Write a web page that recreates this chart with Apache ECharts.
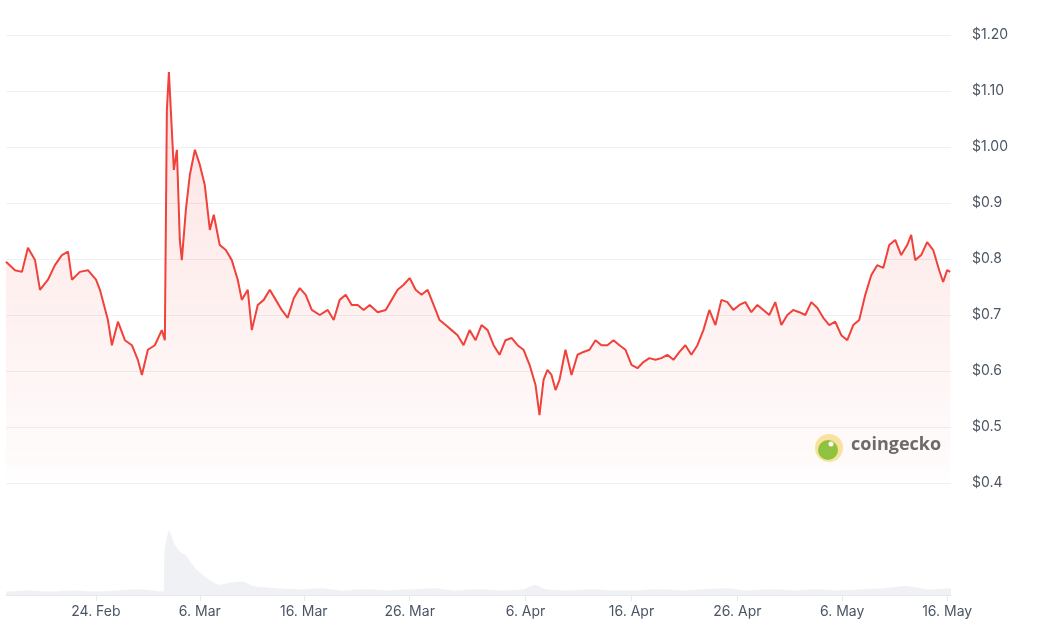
<!DOCTYPE html>
<html><head><meta charset="utf-8">
<script src="https://cdn.jsdelivr.net/npm/echarts@6/dist/echarts.min.js"></script>
<style>html,body{margin:0;padding:0;background:#fff}#c{width:1037px;height:635px}</style>
</head><body><div id="c"></div>
<script>
// x positions in chart units (left edge = 0)
const priceDays = [0,0.8,1.42,1.95,2.58,3.02,3.73,4.35,4.97,5.51,5.86,6.57,7.28,8.0,8.35,9.06,9.41,9.95,10.57,11.19,11.72,12.08,12.61,13.23,13.85,14.12,14.3,14.48,14.65,14.92,15.19,15.45,15.63,15.99,16.34,16.79,17.23,17.67,18.12,18.47,19.0,19.54,20.07,20.6,20.96,21.49,21.85,22.38,22.91,23.45,23.98,24.51,25.04,25.58,26.11,26.64,27.18,27.89,28.6,29.13,29.66,30.2,30.73,31.26,31.79,32.33,33.04,33.75,34.28,34.81,35.35,35.88,36.41,36.94,37.48,38.01,38.54,39.08,39.61,40.14,40.67,41.21,41.74,42.27,42.81,43.34,43.87,44.4,44.94,45.47,46.0,46.54,47.07,47.42,47.78,48.13,48.49,48.85,49.2,49.73,50.27,50.8,51.33,51.87,52.4,52.93,53.46,54.0,54.53,55.06,55.6,56.13,56.66,57.19,57.73,58.26,58.79,59.33,59.86,60.39,60.92,61.46,61.99,62.52,63.06,63.59,64.12,64.65,65.19,65.72,66.25,66.79,67.32,67.85,68.38,68.92,69.45,69.98,70.52,71.05,71.58,72.11,72.65,73.18,73.71,74.25,74.78,75.31,75.84,76.38,76.91,77.44,77.98,78.51,79.04,79.57,80.11,80.46,80.82,81.35,81.88,82.42,82.95,83.3,83.66,83.93];
const prices = [0.795,0.780,0.777,0.820,0.798,0.745,0.763,0.789,0.807,0.813,0.763,0.777,0.780,0.763,0.745,0.691,0.646,0.688,0.655,0.646,0.620,0.593,0.638,0.646,0.673,0.655,1.066,1.134,1.066,0.959,0.995,0.834,0.798,0.888,0.950,0.995,0.968,0.932,0.852,0.879,0.825,0.816,0.798,0.763,0.727,0.745,0.673,0.718,0.727,0.745,0.727,0.709,0.695,0.730,0.748,0.736,0.709,0.700,0.709,0.691,0.727,0.736,0.718,0.718,0.709,0.718,0.705,0.709,0.727,0.745,0.754,0.766,0.745,0.736,0.745,0.718,0.691,0.682,0.673,0.664,0.646,0.673,0.655,0.682,0.673,0.646,0.629,0.655,0.659,0.646,0.638,0.611,0.575,0.521,0.584,0.602,0.593,0.566,0.584,0.638,0.593,0.629,0.634,0.638,0.655,0.646,0.646,0.655,0.646,0.638,0.611,0.605,0.616,0.623,0.620,0.623,0.629,0.620,0.634,0.646,0.629,0.646,0.673,0.709,0.682,0.727,0.723,0.709,0.718,0.723,0.705,0.718,0.709,0.700,0.723,0.682,0.700,0.709,0.705,0.700,0.723,0.713,0.695,0.682,0.688,0.664,0.655,0.682,0.691,0.736,0.771,0.789,0.784,0.825,0.834,0.807,0.825,0.843,0.798,0.807,0.830,0.816,0.780,0.759,0.780,0.777];
const volDays = [0,2,4,6,8,10,12,13,14,14.1,14.5,15,15.5,16,16.5,17,18,19,20,21,22,24,26,28,30,32,34,36,38,40,42,44,46,47,48,50,52,54,56,58,60,62,64,66,68,70,72,74,76,78,80,82,84];
const volumes = [3,4,3,4,3,4,5,4,3,40,57,45,38,35,28,22,14,9,11,12,8,6,5,6,4,5,4,5,6,4,5,4,5,9,5,4,5,4,4,5,4,5,6,4,5,4,5,4,5,6,8,5,6];
const tickPos = [7.99,17.23,26.47,35.88,46.18,55.6,65.01,74.33,83.66];
const tickLabels = ['24. Feb','6. Mar','16. Mar','26. Mar','6. Apr','16. Apr','26. Apr','6. May','16. May'];

const chart = echarts.init(document.getElementById('c'));
const pd = priceDays.map((d,i)=>[d,prices[i]]);
const vd = volDays.map((d,i)=>[d,volumes[i]]);
chart.setOption({
  animation:false,
  grid:[{left:6,right:86,top:35,height:448},{left:6,right:86,top:525,height:70}],
  xAxis:[
    {type:'value',gridIndex:0,min:0,max:84,show:false},
    {type:'value',gridIndex:1,min:0,max:84,
     axisLine:{show:true,lineStyle:{color:'#e6e9ee'}},
     axisTick:{show:true,customValues:tickPos,length:6,lineStyle:{color:'#e6e9ee'}},
     splitLine:{show:false},
     axisLabel:{customValues:tickPos,color:'#4b5563',fontSize:14,fontFamily:'Inter',margin:10,
       formatter:(v)=>{const i=tickPos.indexOf(v);return i>=0?tickLabels[i]:'';}}}
  ],
  yAxis:[
    {type:'value',gridIndex:0,position:'right',min:0.4,max:1.2,interval:0.1,
     axisLine:{show:false},axisTick:{show:false},
     splitLine:{lineStyle:{color:'#eef0f3'}},
     axisLabel:{color:'#4b5563',fontSize:14,fontFamily:'Inter',margin:21,padding:[0,0,23,0],
       formatter:v=>{v=Math.round(v*100)/100;return v>=1?'$'+v.toFixed(2):'$'+v.toFixed(1);}}},
    {type:'value',gridIndex:1,min:0,max:62,show:false,splitLine:{show:false}}
  ],
  graphic:[
    {type:'circle',shape:{cx:829,cy:448,r:14},style:{fill:'#f8e7a1'}},
    {type:'circle',shape:{cx:828,cy:450,r:10},style:{fill:'#8dc63f'}},
    {type:'circle',shape:{cx:831,cy:444,r:2.5},style:{fill:'#fff'}},
    {type:'text',left:851,top:436,style:{text:'coingecko',font:'bold 18px "Open Sans"',fill:'#6b6b6b'}}
  ],
  series:[
    {type:'line',xAxisIndex:0,yAxisIndex:0,data:pd,showSymbol:false,
     lineStyle:{color:'#f0413a',width:2},
     areaStyle:{color:new echarts.graphic.LinearGradient(0,0,0,1,[{offset:0,color:'rgba(240,65,58,0.22)'},{offset:0.95,color:'rgba(240,65,58,0.03)'},{offset:1,color:'rgba(240,65,58,0)'}])}},
    {type:'line',xAxisIndex:1,yAxisIndex:1,data:vd,showSymbol:false,smooth:0.2,
     lineStyle:{width:0},areaStyle:{color:'#e8ebef'}}
  ]
});
</script></body></html>
